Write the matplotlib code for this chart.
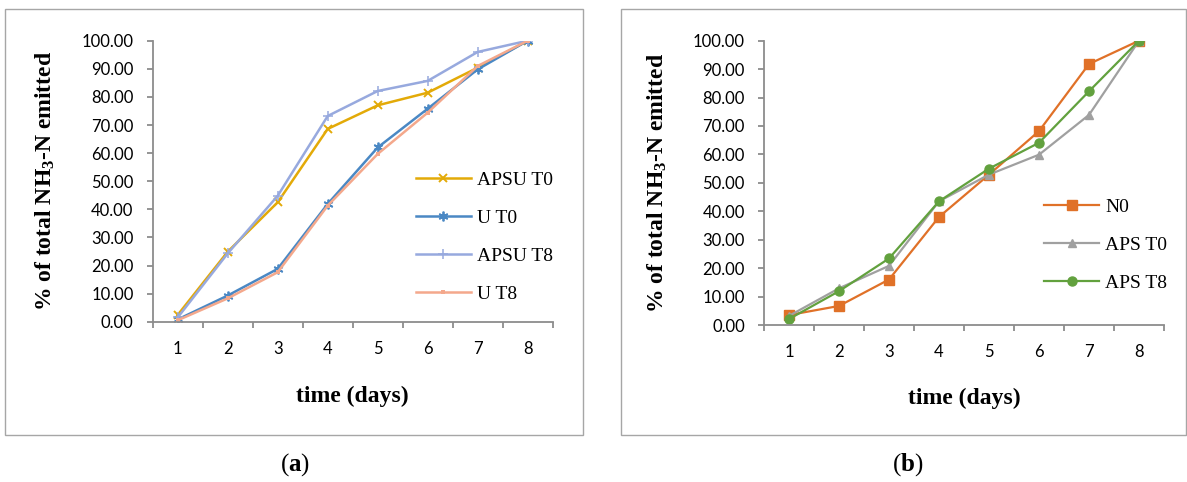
import matplotlib
matplotlib.use("Agg")
import matplotlib.pyplot as plt
from matplotlib.patches import Rectangle
from matplotlib.ticker import FixedLocator, FormatStrFormatter

plt.rcParams['mathtext.fontset'] = 'custom'
plt.rcParams['mathtext.rm'] = 'Liberation Serif:bold'
plt.rcParams['mathtext.bf'] = 'Liberation Serif:bold'
plt.rcParams['mathtext.it'] = 'Liberation Serif:bold'

days = [1, 2, 3, 4, 5, 6, 7, 8]
y_ticks = [0, 10, 20, 30, 40, 50, 60, 70, 80, 90, 100]

# panel (a)
apsu_t0 = [2.4, 24.9, 42.5, 68.6, 77.0, 81.5, 90.4, 100.0]
u_t0 = [0.8, 9.3, 18.8, 41.9, 62.0, 75.8, 89.8, 100.0]
apsu_t8 = [1.5, 24.3, 44.8, 73.2, 82.1, 85.7, 96.0, 100.0]
u_t8 = [0.5, 8.3, 17.6, 41.3, 59.7, 74.4, 91.0, 100.0]
labels_a = ["APSU T0", "U T0", "APSU T8", "U T8"]

# panel (b)
n0 = [3.5, 6.7, 16.0, 38.0, 52.9, 68.2, 91.8, 100.0]
aps_t0 = [3.2, 12.9, 20.8, 43.5, 52.9, 59.9, 73.9, 100.0]
aps_t8 = [2.1, 11.9, 23.4, 43.5, 55.0, 64.1, 82.2, 100.0]
labels_b = ["N0", "APS T0", "APS T8"]

W, H = 1187, 482
fig = plt.figure(figsize=(W / 100, H / 100), dpi=100)

def fx(px):
    return px / W

def fy(py):
    return 1 - py / H

# outer boxes
for (x0, y0, x1, y1) in [(5, 9, 583, 435), (620.5, 9, 1185.5, 435)]:
    fig.patches.append(Rectangle((fx(x0), fy(y1)), fx(x1) - fx(x0), fy(y0) - fy(y1),
                                 transform=fig.transFigure, fill=False,
                                 edgecolor='#a6a6a6', linewidth=1.0))

ax1 = fig.add_axes([fx(152.7), fy(321.7), fx(400), (321.7 - 40.7) / H])
ax2 = fig.add_axes([fx(764), fy(325), fx(400), (325 - 40.7) / H])

tick_font = dict(family='Lato', size=12)
spine_col = '#8c8c8c'

def style(ax):
    ax.set_xlim(0.5, 8.5)
    ax.set_ylim(0, 100)
    for s in ['top', 'right']:
        ax.spines[s].set_visible(False)
    for s in ['left', 'bottom']:
        ax.spines[s].set_color(spine_col)
        ax.spines[s].set_linewidth(1.3)
    ax.set_xticks(days)
    ax.set_xticklabels([str(d) for d in days], fontdict=tick_font)
    ax.xaxis.set_minor_locator(FixedLocator([d + 0.5 for d in [0] + days]))
    ax.tick_params(axis='x', which='major', length=0, pad=14)
    ax.tick_params(axis='x', which='minor', length=4, width=1.3, color=spine_col, direction='out')
    ax.set_yticks(y_ticks)
    ax.yaxis.set_major_formatter(FormatStrFormatter('%.2f'))
    for lab in ax.get_yticklabels():
        lab.set_fontfamily('Lato')
        lab.set_fontsize(12)
    ax.tick_params(axis='y', which='major', length=4.3, width=1.3, color=spine_col, direction='out', pad=9.5)
    ax.set_ylabel(r'% of total NH$_{3}$-N emitted', family='Liberation Serif', weight='bold', fontsize=17)
    ax.set_xlabel('time (days)', family='Liberation Serif', weight='bold', fontsize=17)

style(ax1)
style(ax2)
ax1.yaxis.set_label_coords((57 - 152.7) / 400, 0.5)
ax2.yaxis.set_label_coords((669 - 764) / 400, 0.5)
ax1.xaxis.set_label_coords(0.5, -(386 - 321.7) / (321.7 - 40.7))
ax2.xaxis.set_label_coords(0.5, -(388 - 325) / (325 - 40.7))

lw = 1.8
ax1.plot(days, apsu_t0, color='#e3aa08', lw=lw, marker='x', ms=6, mew=1.4, label=labels_a[0])
ax1.plot(days, u_t0, color='#4a88c4', lw=lw, marker=(6, 2, 0), ms=7, mew=1.3, label=labels_a[1])
ax1.plot(days, apsu_t8, color='#97a9de', lw=lw, marker='+', ms=7, mew=1.1, label=labels_a[2])
ax1.plot(days, u_t8, color='#f4a88c', lw=lw, marker='s', ms=3, mew=0, label=labels_a[3])

ax2.plot(days, n0, color='#e07128', lw=1.6, marker='s', ms=6.5, label=labels_b[0])
ax2.plot(days, aps_t0, color='#a0a0a0', lw=1.6, marker='^', ms=6, label=labels_b[1])
ax2.plot(days, aps_t8, color='#62a13e', lw=1.6, marker='o', ms=6.5, label=labels_b[2])

leg_kw = dict(frameon=False, prop={'family': 'Liberation Serif', 'size': 14},
              handlelength=2.85, handletextpad=0.3, labelspacing=1.05,
              borderpad=0, borderaxespad=0, loc='upper left')
ax1.legend(bbox_to_anchor=(fx(415.5), fy(171)), bbox_transform=fig.transFigure, **leg_kw)
ax2.legend(bbox_to_anchor=(fx(1044), fy(198)), bbox_transform=fig.transFigure, **leg_kw)

fig.text(fx(295), fy(465), r'($\mathbf{a}$)', family='Liberation Serif', fontsize=18, ha='center', va='center')
fig.text(fx(908), fy(465), r'($\mathbf{b}$)', family='Liberation Serif', fontsize=18, ha='center', va='center')

fig.savefig('out.png', dpi=100)
